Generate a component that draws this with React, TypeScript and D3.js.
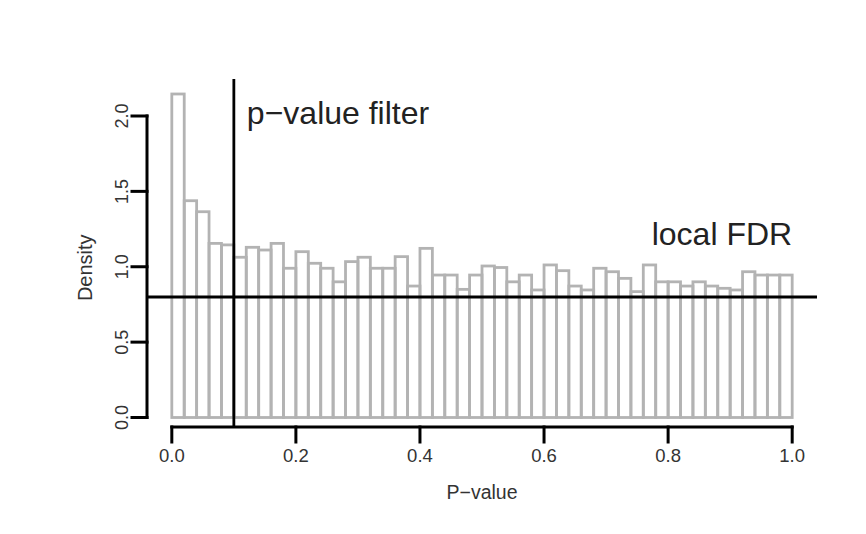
import React from "react";
import * as d3 from "d3";

// Histogram of p-values: density per bin (bin width 0.02 on [0, 1])
const binStarts: number[] = d3.range(0, 50).map((i) => i * 0.02);
const densities: number[] = [
  2.146, 1.438, 1.365, 1.155, 1.145, 1.063, 1.129, 1.111, 1.155, 0.99,
  1.1, 1.023, 0.99, 0.9, 1.034, 1.063, 0.99, 0.99, 1.067, 0.872,
  1.122, 0.945, 0.945, 0.85, 0.945, 1.005, 0.995, 0.9, 0.945, 0.846,
  1.012, 0.974, 0.872, 0.846, 0.99, 0.967, 0.923, 0.835, 1.012, 0.9,
  0.9, 0.872, 0.9, 0.872, 0.857, 0.846, 0.967, 0.945, 0.945, 0.945,
];
const binWidth = 0.02;

const xTicks: number[] = [0, 0.2, 0.4, 0.6, 0.8, 1.0];
const yTicks: number[] = [0, 0.5, 1.0, 1.5, 2.0];

const pValueFilter = 0.1;
const localFdr = 0.8;

const xTitle = "P\u2212value";
const yTitle = "Density";
const filterLabel = "p\u2212value filter";
const fdrLabel = "local FDR";

const W = 866;
const H = 534;

export default function App() {
  // plot region spans the data range with a 4% margin on each side
  const x = d3.scaleLinear().domain([-0.04, 1.04]).range([147, 817]);
  const y = d3.scaleLinear().domain([0, 2]).range([417.5, 116]);
  const plotTop = 79;
  const plotBottom = 427;
  const font = "'Liberation Sans', Arial, Helvetica, sans-serif";
  const fmt = d3.format(".1f");
  const tickLen = 15;

  return (
    <svg
      width={W}
      height={H}
      style={{ position: "absolute", left: 0, top: 0, background: "#ffffff" }}
      fontFamily={font}
    >
      {/* histogram bars */}
      <g stroke="#b3b3b3" strokeWidth={2.8} fill="none">
        {binStarts.map((b, i) => (
          <rect
            key={i}
            x={x(b)}
            y={y(densities[i])}
            width={x(b + binWidth) - x(b)}
            height={y(0) - y(densities[i])}
          />
        ))}
      </g>

      {/* y axis */}
      <g stroke="#000" strokeWidth={3} strokeLinecap="square">
        <line x1={x.range()[0]} x2={x.range()[0]} y1={y(yTicks[0])} y2={y(yTicks[yTicks.length - 1])} />
        {yTicks.map((t) => (
          <line key={t} x1={x.range()[0] - tickLen} x2={x.range()[0]} y1={y(t)} y2={y(t)} />
        ))}
      </g>
      <g fontSize={18} fill="#333" textAnchor="middle">
        {yTicks.map((t) => (
          <text key={t} transform={`translate(${x.range()[0] - 19},${y(t)}) rotate(-90)`}>
            {fmt(t)}
          </text>
        ))}
      </g>

      {/* x axis */}
      <g stroke="#000" strokeWidth={3} strokeLinecap="square">
        <line x1={x(xTicks[0])} x2={x(xTicks[xTicks.length - 1])} y1={plotBottom} y2={plotBottom} />
        {xTicks.map((t) => (
          <line key={t} x1={x(t)} x2={x(t)} y1={plotBottom} y2={plotBottom + tickLen} />
        ))}
      </g>
      <g fontSize={18.5} fill="#333" textAnchor="middle">
        {xTicks.map((t) => (
          <text key={t} x={x(t)} y={462}>
            {fmt(t)}
          </text>
        ))}
      </g>

      {/* axis titles */}
      <text x={(x(0) + x(1)) / 2} y={499} fontSize={19.5} fill="#333" textAnchor="middle">
        {xTitle}
      </text>
      <text
        transform={`translate(92,${(y(0) + y(2)) / 2 + 1}) rotate(-90)`}
        fontSize={20}
        fill="#333"
        textAnchor="middle"
      >
        {yTitle}
      </text>

      {/* p-value filter threshold */}
      <line
        x1={x(pValueFilter)}
        x2={x(pValueFilter)}
        y1={plotTop}
        y2={plotBottom}
        stroke="#000"
        strokeWidth={2.8}
      />
      <text x={x(pValueFilter) + 13} y={124} fontSize={32} fill="#222">
        {filterLabel}
      </text>

      {/* local FDR level */}
      <line
        x1={x.range()[0]}
        x2={x.range()[1]}
        y1={y(localFdr)}
        y2={y(localFdr)}
        stroke="#000"
        strokeWidth={3}
      />
      <text x={x(1)} y={245} fontSize={32} fill="#222" textAnchor="end">
        {fdrLabel}
      </text>
    </svg>
  );
}
